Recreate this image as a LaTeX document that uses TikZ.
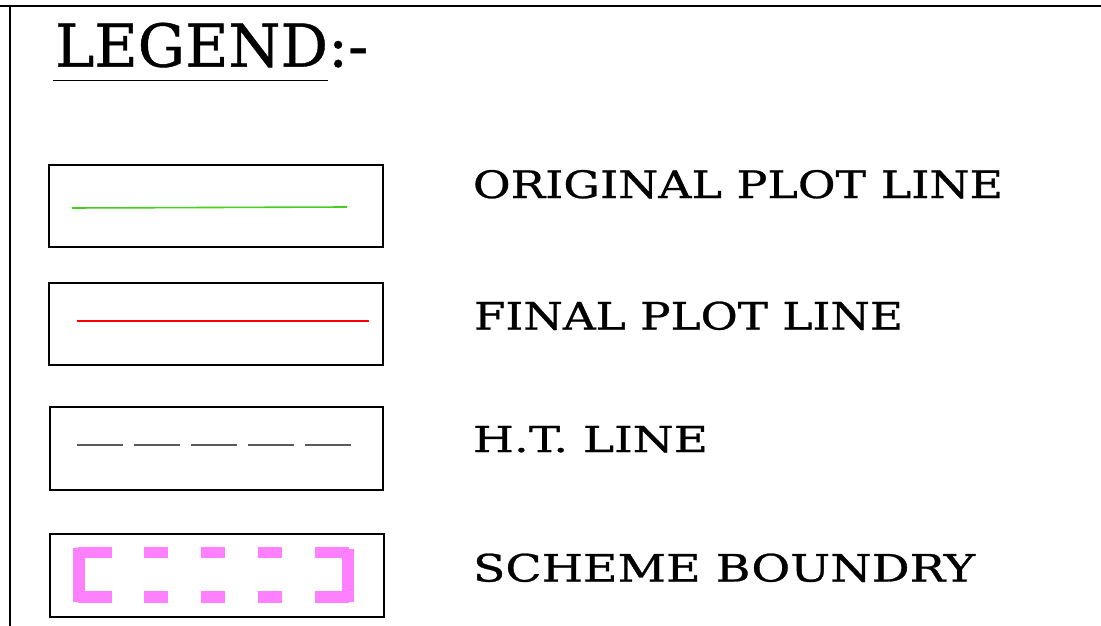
\documentclass[tikz,border=0pt]{standalone}
\usepackage{fontspec}
\usepackage{graphicx}
\setmainfont[FakeBold=0.7]{DejaVu Serif}
\definecolor{plotgreen}{RGB}{70,205,30}
\definecolor{plotred}{RGB}{255,0,0}
\definecolor{htgray}{RGB}{90,90,90}
\definecolor{schemepink}{RGB}{255,128,255}
\newcommand{\fitlabel}[3]{\resizebox{#1}{#2}{#3}}
\begin{document}
\begin{tikzpicture}[x=1pt,y=-1pt,
  legbox/.style={draw=black,line width=1.5pt,minimum width=334pt,minimum height=82pt,inner sep=0pt},
  lbl/.style={anchor=base west,inner sep=0pt,outer sep=0pt},
  pinkfill/.style={fill=schemepink,draw=none}]
\useasboundingbox (0,0) rectangle (1101,626);
% frame lines
\draw[line width=2pt] (0,6) -- (1101,6);
\draw[line width=1.5pt] (10,6) -- (10,626);
% title
\node[lbl] (title) at (55,66.7) {\fitlabel{313pt}{44pt}{LEGEND:-}};
\coordinate (ulA) at (53,80.5);
\coordinate (ulB) at (328,80.5);
\draw[line width=1.5pt] (ulA) -- (ulB);
% boxes
\node[legbox] (b1) at (216,206) {};
\node[legbox] (b2) at (216,324) {};
\node[legbox,minimum width=333pt,minimum height=83pt] (b3) at (216.5,448.5) {};
\node[legbox,minimum height=83pt] (b4) at (217,575.5) {};
% green line
\coordinate (g1) at (72,208);
\coordinate (g2) at (347,207);
\draw[plotgreen,line width=1.6pt] (g1) -- (g2);
% red line
\coordinate (r1) at (77,321);
\coordinate (r2) at (369,321);
\draw[plotred,line width=1.6pt] (r1) -- (r2);
% H.T. dashed line
\coordinate (h1) at (77,445);
\coordinate (h2) at (351,445);
\draw[htgray,line width=1.1pt,dash pattern=on 46pt off 11pt] (h1) -- (h2);
% scheme boundary (pink)
\fill[pinkfill] (73,548) rectangle (85,602);
\fill[pinkfill] (78,547) rectangle (112,557.5);
\fill[pinkfill] (78,591) rectangle (112,603);
\foreach \xa in {144,201,258}{
  \fill[pinkfill] (\xa,547) rectangle (\xa+24,557.5);
  \fill[pinkfill] (\xa,591) rectangle (\xa+24,603);
}
\fill[pinkfill] (315,547) rectangle (349,557.5);
\fill[pinkfill] (315,591) rectangle (349,603);
\fill[pinkfill] (341.5,549) rectangle (353.5,602);
% labels
\node[lbl] (t1) at (473,198) {\fitlabel{530pt}{28pt}{ORIGINAL PLOT LINE}};
\node[lbl] (t2) at (474,329.5) {\fitlabel{429pt}{28pt}{FINAL PLOT LINE}};
\node[lbl] (t3) at (473,452) {\fitlabel{235pt}{26pt}{H.T. LINE}};
\node[lbl] (t4) at (473,581.5) {\fitlabel{502pt}{28pt}{SCHEME BOUNDRY}};
\end{tikzpicture}
\end{document}
